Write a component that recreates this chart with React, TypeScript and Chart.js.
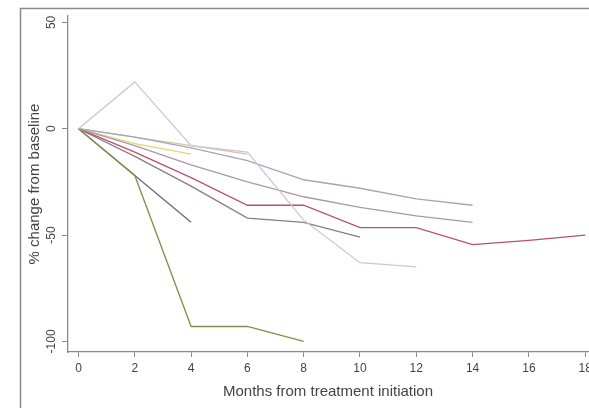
import React, { useEffect, useRef } from "react";
import { Chart, registerables } from "chart.js";

Chart.register(...registerables);

const months = [0, 2, 4, 6, 8, 10, 12, 14, 16, 18];
const xTickValues = [0, 2, 4, 6, 8, 10, 12, 14, 16, 18];
const yTickValues = [-100, -50, 0, 50];

const patientA = [0, 22, -8, -11, -43, -63, -65];
const patientB = [0, -4, -9, -15, -24, -28, -33, -36];
const patientC = [0, -8, -17, -25, -32, -37, -41, -44];
const patientD = [0, -11, -23, -36, -36, -46.5, -46.5, -54.5, -52.5, -50];
const patientE = [0, -13, -27, -42, -44, -51];
const patientF = [0, -22, -93, -93, -100];
const patientG = [0, -22, -44];
const patientH = [0, -7, -12];
const patientI = [0, -4, -8, -12];

const seriesList = [
  { values: patientA, color: "#d2c4cf" },
  { values: patientB, color: "#9ea8b8" },
  { values: patientC, color: "#a898ab" },
  { values: patientD, color: "#b8506e" },
  { values: patientE, color: "#8c7c7e" },
  { values: patientF, color: "#7f8f4c" },
  { values: patientG, color: "#5f6e80" },
  { values: patientH, color: "#e8d27a" },
  { values: patientI, color: "#d8c49c" },
];

const framePlugin = {
  id: "frame",
  beforeDraw(chart: any) {
    const ctx = chart.ctx;
    ctx.save();
    ctx.fillStyle = "#ffffff";
    ctx.fillRect(0, 0, chart.width, chart.height);
    ctx.strokeStyle = "#8a8a8a";
    ctx.lineWidth = 1.5;
    ctx.strokeRect(20.5, 8.5, 800, 600);
    ctx.restore();
  },
};

export default function App() {
  const ref = useRef<HTMLCanvasElement>(null);
  useEffect(() => {
    if (!ref.current) return;
    const chart = new Chart(ref.current, {
      type: "line",
      data: {
        datasets: seriesList.map((s) => ({
          data: s.values.map((v, i) => ({ x: months[i], y: v })),
          borderColor: s.color,
          borderWidth: 1.3,
          pointRadius: 0,
          tension: 0,
          fill: false,
        })),
      },
      options: {
        animation: false,
        responsive: false,
        layout: { padding: { left: 20, top: 16, right: 32, bottom: 35 } },
        plugins: { legend: { display: false }, tooltip: { enabled: false } },
        scales: {
          x: {
            type: "linear",
            min: -0.373,
            max: 18.1,
            afterBuildTicks: (scale: any) => {
              scale.ticks = xTickValues.map((v) => ({ value: v }));
            },
            afterFit: (scale: any) => {
              scale.height = 53;
            },
            grid: { drawOnChartArea: false, drawTicks: true, tickLength: 5, color: "#8a8a8a" },
            border: { display: true, color: "#8a8a8a", width: 1.3 },
            ticks: {
              color: "#444",
              font: { family: "Liberation Sans", size: 12 },
              padding: 4,
              maxRotation: 0,
              autoSkip: false,
            },
            title: {
              display: true,
              text: "Months from treatment initiation",
              color: "#444",
              font: { family: "Liberation Sans", size: 15 },
              padding: { top: 4, bottom: 4 },
            },
          },
          y: {
            type: "linear",
            min: -105,
            max: 53,
            afterBuildTicks: (scale: any) => {
              scale.ticks = yTickValues.map((v) => ({ value: v }));
            },
            afterFit: (scale: any) => {
              scale.width = 48;
            },
            grid: { drawOnChartArea: false, drawTicks: true, tickLength: 6, color: "#8a8a8a" },
            border: { display: true, color: "#8a8a8a", width: 1.3 },
            ticks: {
              color: "#444",
              font: { family: "Liberation Sans", size: 12 },
              padding: -2,
              crossAlign: "center",
              minRotation: 90,
              maxRotation: 90,
              autoSkip: false,
            },
            title: {
              display: true,
              text: "% change from baseline",
              color: "#444",
              font: { family: "Liberation Sans", size: 15 },
              padding: { top: 6, bottom: 4 },
            },
          },
        },
      },
      plugins: [framePlugin],
    });
    return () => chart.destroy();
  }, []);
  return (
    <div style={{ position: "fixed", left: 0, top: 0, width: 589, height: 408, overflow: "hidden", background: "#fff" }}>
      <canvas ref={ref} width={620} height={440} style={{ display: "block" }} />
    </div>
  );
}
